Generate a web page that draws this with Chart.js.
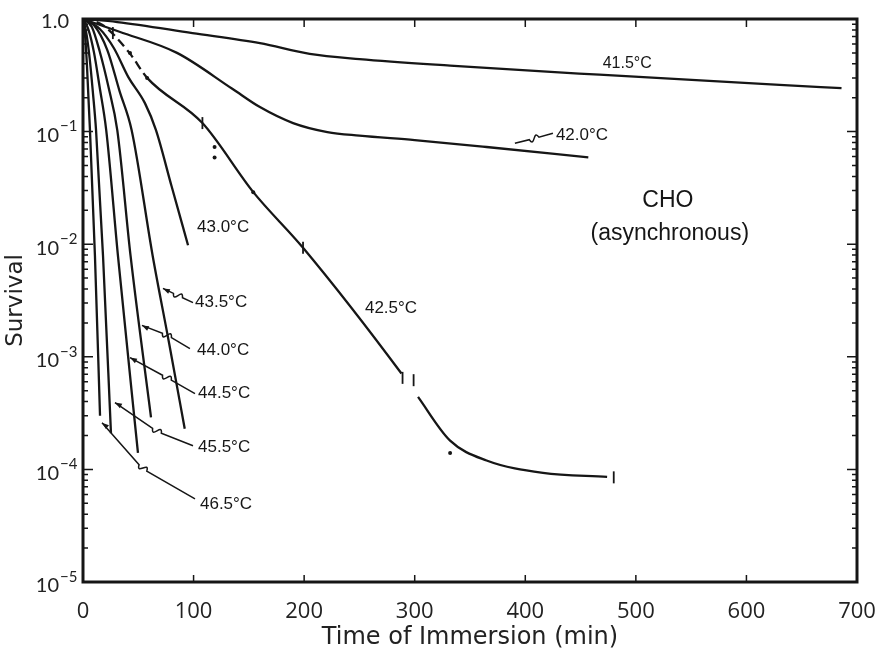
<!DOCTYPE html>
<html><head><meta charset="utf-8">
<script src="https://cdn.jsdelivr.net/npm/chart.js@4.4.0/dist/chart.umd.min.js"></script>
<style>html,body{margin:0;padding:0;background:#fff;}#wrap{width:887px;height:657px;}</style>
</head><body><div id="wrap"><canvas id="c" width="887" height="657"></canvas></div>
<script>
// ---- axis ticks ----
const xTickValues = [0,100,200,300,400,500,600,700];
const yTickValues = [1,1e-1,1e-2,1e-3,1e-4,1e-5];
const yTickLabels = ['1.0','10^-1','10^-2','10^-3','10^-4','10^-5'];

// ---- survival curves (time in min, surviving fraction) ----
const t415 = [0,31,99,160,205,250,332,467,630,686];
const s415 = [1,0.94,0.75,0.61,0.49,0.44,0.385,0.32,0.26,0.243];

const t420 = [0,33,85,135,160,190,221,250,300,365,457];
const s420 = [1,0.77,0.50,0.24,0.165,0.119,0.099,0.092,0.084,0.073,0.059];

const t425 = [0,18,42,58,108,154,199,288,303,332,365,416,474];
const s425 = [1,0.88,0.50,0.30,0.119,0.029,0.0093,7.1e-4,4.4e-4,1.8e-4,1.2e-4,9.3e-5,8.6e-5];

const t430 = [0,15,28,41,56,66,80,95];
const s430 = [1,0.82,0.55,0.305,0.179,0.103,0.033,0.0098];

const t435 = [0,10,22,33,44,63,78,92];
const s435 = [1,0.88,0.53,0.23,0.103,0.0079,0.0013,2.3e-4];

const t440 = [0,8,15,23,31,43,61.5];
const s440 = [1,0.85,0.52,0.25,0.103,0.0079,2.9e-4];

const t445 = [0,5,10,15,21,31.6,49.7];
const s445 = [1,0.8,0.5,0.25,0.103,0.0079,1.4e-4];

const t455 = [0,3,6,9,11.8,18.1,25.3];
const s455 = [1,0.75,0.45,0.22,0.103,0.0079,2.1e-4];

const t465 = [0,1.5,3.5,6.3,10.8,15.4];
const s465 = [1,0.8,0.4,0.103,0.0079,3.0e-4];

// ---- measured points on the 42.5 °C curve ----
const barT = [27,108,199,289,299,480];
const barS = [0.75,0.119,0.0093,6.5e-4,6.2e-4,8.5e-5];
const dotT = [42.5,58,119,119,154,332];
const dotS = [0.50,0.30,0.073,0.059,0.029,1.4e-4];

const seriesNames = ['41.5°C','42.0°C','42.5°C','43.0°C','43.5°C','44.0°C','44.5°C','45.5°C','46.5°C'];

const toXY = (t,s) => t.map((v,i)=>({x:v,y:s[i]}));

// ---- annotations (positions in data units) ----
const curveLabels = [
  {text:'41.5°C', t:470,   s:0.398,   size:16},
  {text:'42.0°C', t:427.7, s:0.0929,  size:17},
  {text:'42.5°C', t:255,   s:2.685e-3,size:17},
  {text:'43.0°C', t:103.1, s:0.01409, size:17},
  {text:'43.5°C', t:101.3, s:3.034e-3,size:17},
  {text:'44.0°C', t:103.1, s:1.135e-3,size:17},
  {text:'44.5°C', t:104,   s:4.71e-4, size:17},
  {text:'45.5°C', t:104,   s:1.556e-4,size:17},
  {text:'46.5°C', t:105.8, s:4.94e-5, size:17}
];
const noteLabels = [
  {text:'CHO', t:529, s:0.02455, size:23},
  {text:'(asynchronous)', t:530.7, s:0.01247, size:23}
];
const leaders = [
  {from:[390.6,0.0789], mid:[408,0.087], to:[425,0.0968], arrow:false},
  {from:[72.3,0.00405], mid:[85.9,0.0035], to:[99.5,0.00303], arrow:true},
  {from:[53.3,0.0019],  mid:[75.9,0.00155], to:[96.7,0.00118], arrow:true},
  {from:[42.5,9.84e-4], mid:[75.9,6.53e-4], to:[101.3,4.71e-4], arrow:true},
  {from:[28.9,3.92e-4], mid:[66.9,2.2e-4],  to:[99.5,1.62e-4], arrow:true},
  {from:[17.2,2.6e-4],  mid:[54.2,1.03e-4], to:[101.3,5.47e-5], arrow:true}
];

const INK = '#161616';
function curve(label, t, s, extra){
  return Object.assign({
    label, data: toXY(t,s), borderColor: INK, borderWidth: 2.3,
    pointRadius: 0, fill: false, cubicInterpolationMode: 'monotone'
  }, extra||{});
}

const framePlugin = {
  id:'frame',
  afterDatasetsDraw(chart){
    const {ctx, chartArea:a, scales:{x,y}} = chart;
    ctx.save();
    ctx.strokeStyle = INK; ctx.fillStyle = INK;
    ctx.lineWidth = 3;
    ctx.strokeRect(a.left, a.top, a.right-a.left, a.bottom-a.top);
    ctx.lineWidth = 1.5;
    xTickValues.forEach(v=>{
      const px = x.getPixelForValue(v);
      ctx.beginPath();
      ctx.moveTo(px, a.bottom); ctx.lineTo(px, a.bottom-7);
      ctx.moveTo(px, a.top); ctx.lineTo(px, a.top+8);
      ctx.stroke();
    });
    for (let e=0; e>=-5; e--){
      for (let m=1; m<=9; m++){
        const v = m*Math.pow(10,e-1);
        if (v < 1e-5 - 1e-12 || v > 1) continue;
        const py = y.getPixelForValue(v);
        const len = (m===1) ? 10 : 5;
        ctx.beginPath();
        ctx.moveTo(a.left, py); ctx.lineTo(a.left+len, py);
        ctx.moveTo(a.right, py); ctx.lineTo(a.right-len, py);
        ctx.stroke();
      }
    }
    yTickValues.forEach((v,i)=>{
      const py = y.getPixelForValue(v);
      const lab = yTickLabels[i];
      ctx.fillStyle = '#222';
      if (lab.indexOf('^')<0){
        ctx.font = '20px Lato'; ctx.textAlign='right'; ctx.textBaseline='middle';
        ctx.fillText(lab, a.left-14, py+3);
      } else {
        const [b,ex] = lab.split('^');
        ctx.font = '20px Lato'; ctx.textAlign='right'; ctx.textBaseline='middle';
        ctx.fillText(b, a.left-24, py+4);
        ctx.font = '15px Lato'; ctx.textAlign='left';
        ctx.fillText(ex.replace('-','\u2212'), a.left-23, py-5);
      }
    });
    ctx.fillStyle = INK; ctx.textBaseline='middle';
    curveLabels.forEach(l=>{
      ctx.font = l.size+'px "Liberation Sans"'; ctx.textAlign='left';
      ctx.fillText(l.text, x.getPixelForValue(l.t), y.getPixelForValue(l.s));
    });
    noteLabels.forEach(l=>{
      ctx.font = l.size+'px "Liberation Sans"'; ctx.textAlign='center';
      ctx.fillText(l.text, x.getPixelForValue(l.t), y.getPixelForValue(l.s));
    });
    ctx.lineWidth = 1.5; ctx.strokeStyle = INK;
    leaders.forEach(L=>{
      const p0={x:x.getPixelForValue(L.from[0]), y:y.getPixelForValue(L.from[1])};
      const pm={x:x.getPixelForValue(L.mid[0]),  y:y.getPixelForValue(L.mid[1])};
      const p1={x:x.getPixelForValue(L.to[0]),   y:y.getPixelForValue(L.to[1])};
      let ux=p1.x-p0.x, uy=p1.y-p0.y; const d=Math.hypot(ux,uy); ux/=d; uy/=d;
      const nx=-uy, ny=ux, k=5;
      ctx.beginPath();
      ctx.moveTo(p0.x,p0.y);
      ctx.lineTo(pm.x-ux*k, pm.y-uy*k);
      ctx.bezierCurveTo(pm.x-ux*1+nx*10, pm.y-uy*1+ny*10, pm.x+ux*1-nx*10, pm.y+uy*1-ny*10, pm.x+ux*k, pm.y+uy*k);
      ctx.lineTo(p1.x,p1.y);
      ctx.stroke();
      if (L.arrow){
        ctx.beginPath();
        ctx.moveTo(p0.x,p0.y);
        ctx.lineTo(p0.x+ux*7+nx*2.5, p0.y+uy*7+ny*2.5);
        ctx.lineTo(p0.x+ux*7-nx*2.5, p0.y+uy*7-ny*2.5);
        ctx.closePath(); ctx.fill();
      }
    });
    ctx.restore();
  }
};

new Chart(document.getElementById('c'), {
  type:'line',
  data:{ datasets:[
    curve(seriesNames[0], t415, s415),
    curve(seriesNames[1], t420, s420),
    curve(seriesNames[2], t425, s425, {segment:{
      borderDash: c => c.p1.parsed.x <= 58.5 ? [9,5] : undefined,
      borderColor: c => (c.p0.parsed.x === 288) ? 'rgba(0,0,0,0)' : undefined
    }}),
    curve(seriesNames[3], t430, s430),
    curve(seriesNames[4], t435, s435),
    curve(seriesNames[5], t440, s440),
    curve(seriesNames[6], t445, s445),
    curve(seriesNames[7], t455, s455),
    curve(seriesNames[8], t465, s465),
    {label:'42.5 bars', data: toXY(barT,barS), showLine:false, pointStyle:'line', pointRotation:90,
     pointRadius:6, pointBorderWidth:1.8, pointBorderColor:INK, pointBackgroundColor:INK},
    {label:'42.5 dots', data: toXY(dotT,dotS), showLine:false, pointStyle:'circle',
     pointRadius:2, pointBorderWidth:0, pointBackgroundColor:INK}
  ]},
  options:{
    responsive:false, animation:false, devicePixelRatio:1,
    layout:{padding:{top:19,right:30,left:0,bottom:0}},
    plugins:{legend:{display:false}, tooltip:{enabled:false}},
    scales:{
      x:{type:'linear', min:0, max:700,
         afterBuildTicks: s => { s.ticks = xTickValues.map(v=>({value:v})); },
         afterFit: s => { s.height = 75; },
         grid:{display:false}, border:{display:false},
         ticks:{autoSkip:false, maxRotation:0, padding:9, color:'#222', font:{family:'"Open Sans"', size:22}},
         title:{display:true, text:'Time of Immersion (min)', color:'#222', font:{family:'"DejaVu Sans"', size:24}, padding:{top:0,bottom:5}}
      },
      y:{type:'logarithmic', min:1e-5, max:1,
         afterBuildTicks: s => { s.ticks = yTickValues.map(v=>({value:v})); },
         afterFit: s => { s.width = 83; },
         grid:{display:false}, border:{display:false},
         ticks:{display:false},
         title:{display:true, text:'Survival', color:'#222', font:{family:'"DejaVu Sans"', size:23}, padding:{top:2,bottom:0}}
      }
    }
  },
  plugins:[framePlugin]
});
</script></body></html>
